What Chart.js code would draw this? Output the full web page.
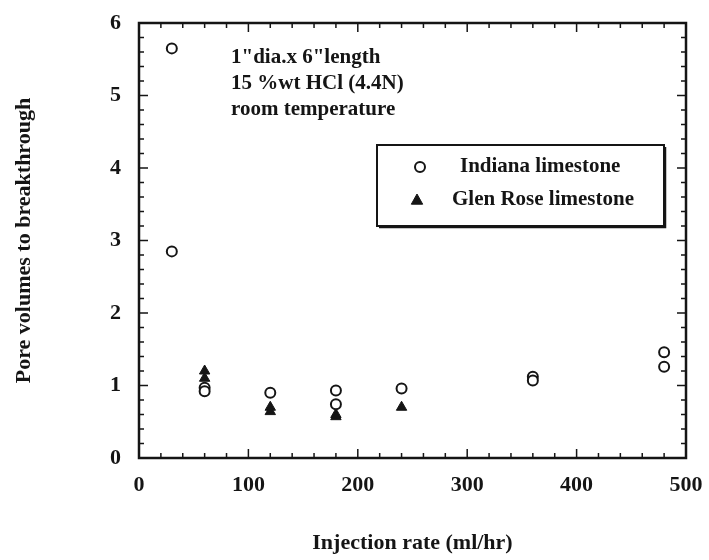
<!DOCTYPE html>
<html>
<head>
<meta charset="utf-8">
<title>Pore volumes to breakthrough</title>
<script src="https://cdn.jsdelivr.net/npm/chart.js@4.4.1/dist/chart.umd.min.js"></script>
<style>
  html, body { margin: 0; padding: 0; background: #fff; }
  #wrap { width: 709px; height: 560px; }
</style>
</head>
<body>
<div id="wrap"><canvas id="chart" width="709" height="560"></canvas></div>
<script>
// injection rate (ml/hr) vs pore volumes to breakthrough
const indianaRate = [30, 30, 60, 60, 120, 180, 180, 240, 360, 360, 480, 480];
const indianaPV   = [5.65, 2.85, 0.97, 0.92, 0.9, 0.93, 0.74, 0.96, 1.12, 1.07, 1.46, 1.26];

const glenRoseRate = [60, 60, 120, 120, 180, 180, 240];
const glenRosePV   = [1.2, 1.1, 0.7, 0.64, 0.6, 0.57, 0.7];

const xTicks = [0, 100, 200, 300, 400, 500];
const yTicks = [0, 1, 2, 3, 4, 5, 6];

const seriesNames = ['Indiana limestone', 'Glen Rose limestone'];
const noteLines = ['1"dia.x 6"length', '15 %wt HCl (4.4N)', 'room temperature'];

const INK = '#151515';
const SERIF = '"Liberation Serif", "Times New Roman", serif';

function toPoints(xs, ys) {
  return xs.map((x, i) => ({ x, y: ys[i] }));
}

// frame with inward ticks on all four sides, minor every 20 / 0.2
const frameTicks = {
  id: 'frameTicks',
  afterDatasetsDraw(chart) {
    const { ctx, chartArea: a, scales: { x, y } } = chart;
    ctx.save();
    ctx.strokeStyle = INK;
    ctx.lineWidth = 2.5;
    ctx.strokeRect(a.left, a.top, a.right - a.left, a.bottom - a.top);
    ctx.lineWidth = 1.5;
    for (let v = 0; v <= 500; v += 20) {
      const px = x.getPixelForValue(v);
      const len = v % 100 === 0 ? 9 : 5;
      ctx.beginPath();
      ctx.moveTo(px, a.bottom); ctx.lineTo(px, a.bottom - len);
      ctx.moveTo(px, a.top); ctx.lineTo(px, a.top + len);
      ctx.stroke();
    }
    for (let k = 0; k <= 30; k++) {
      const py = y.getPixelForValue(k / 5);
      const len = k % 5 === 0 ? 9 : 5;
      ctx.beginPath();
      ctx.moveTo(a.left, py); ctx.lineTo(a.left + len, py);
      ctx.moveTo(a.right, py); ctx.lineTo(a.right - len, py);
      ctx.stroke();
    }
    ctx.restore();
  }
};

// boxed legend and the test conditions note
const notes = {
  id: 'notes',
  afterDraw(chart) {
    const ctx = chart.ctx;
    ctx.save();
    ctx.fillStyle = INK;
    ctx.textBaseline = 'middle';
    ctx.textAlign = 'left';
    ctx.font = 'bold 21px ' + SERIF;
    const lineY = [58, 84, 110];
    noteLines.forEach((t, i) => ctx.fillText(t, 231, lineY[i]));

    // legend box
    const bx = 377, by = 145, bw = 287, bh = 81;
    ctx.strokeStyle = INK;
    ctx.lineWidth = 2;
    ctx.strokeRect(bx, by, bw, bh);
    ctx.lineWidth = 1.5;
    ctx.beginPath();
    ctx.moveTo(bx + 2, by + bh + 1.5); ctx.lineTo(bx + bw + 1.5, by + bh + 1.5);
    ctx.lineTo(bx + bw + 1.5, by + 2);
    ctx.stroke();

    ctx.font = 'bold 21px ' + SERIF;
    const rowY = [167, 200];
    const textX = [460, 452];
    chart.data.datasets.forEach((ds, i) => {
      const mx = i === 0 ? 420 : 417;
      ctx.lineWidth = ds.borderWidth;
      ctx.strokeStyle = ds.borderColor;
      ctx.fillStyle = ds.backgroundColor;
      ctx.beginPath();
      if (ds.pointStyle === 'circle') {
        ctx.arc(mx, rowY[i], ds.pointRadius, 0, Math.PI * 2);
        ctx.fill(); ctx.stroke();
      } else {
        const r = ds.pointRadius;
        ctx.moveTo(mx, rowY[i] - r);
        ctx.lineTo(mx + r * 0.95, rowY[i] + r * 0.7);
        ctx.lineTo(mx - r * 0.95, rowY[i] + r * 0.7);
        ctx.closePath();
        ctx.fill(); ctx.stroke();
      }
      ctx.fillStyle = INK;
      ctx.fillText(ds.label, textX[i], rowY[i]);
    });
    ctx.restore();
  }
};

const tickFont = { family: SERIF, size: 22, weight: 'bold' };
const titleFont = { family: SERIF, size: 22, weight: 'bold' };

new Chart(document.getElementById('chart'), {
  type: 'scatter',
  data: {
    datasets: [
      {
        label: seriesNames[0],
        data: toPoints(indianaRate, indianaPV),
        pointStyle: 'circle',
        pointRadius: 5,
        borderWidth: 2,
        borderColor: INK,
        backgroundColor: '#ffffff'
      },
      {
        label: seriesNames[1],
        data: toPoints(glenRoseRate, glenRosePV),
        pointStyle: 'triangle',
        pointRadius: 6,
        borderWidth: 1,
        borderColor: INK,
        backgroundColor: INK
      }
    ]
  },
  options: {
    responsive: false,
    animation: false,
    layout: { padding: { left: 11, top: 23, right: 23, bottom: 3 } },
    plugins: {
      legend: { display: false },
      tooltip: { enabled: false }
    },
    scales: {
      x: {
        type: 'linear',
        min: 0,
        max: 500,
        afterBuildTicks: s => { s.ticks = xTicks.map(v => ({ value: v })); },
        // fixed band height, and no extra room for the end labels
        afterFit: s => { s.height = 99; s.paddingLeft = 0; s.paddingRight = 0; },
        grid: { display: false, drawTicks: false },
        border: { display: false },
        ticks: { font: tickFont, color: INK, padding: 14, maxRotation: 0 },
        title: { display: true, text: 'Injection rate (ml/hr)', font: titleFont, color: INK, padding: 0 }
      },
      y: {
        min: 0,
        max: 6,
        afterBuildTicks: s => { s.ticks = yTicks.map(v => ({ value: v })); },
        afterFit: s => { s.width = 128; s.paddingTop = 0; s.paddingBottom = 0; },
        grid: { display: false, drawTicks: false },
        border: { display: false },
        ticks: { font: tickFont, color: INK, padding: 18 },
        title: { display: true, text: 'Pore volumes to breakthrough', font: titleFont, color: INK, padding: 0 }
      }
    }
  },
  plugins: [frameTicks, notes]
});
</script>
</body>
</html>
